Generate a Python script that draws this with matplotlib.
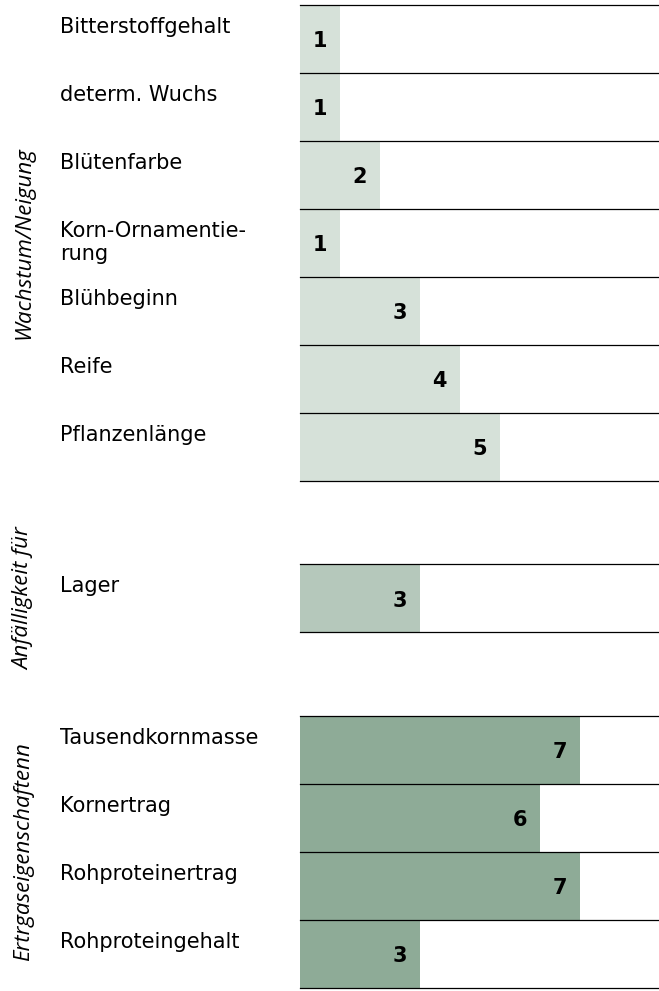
import matplotlib.pyplot as plt
import matplotlib.transforms as mtransforms

# Daten
labels_wachstum = ['Bitterstoffgehalt', 'determ. Wuchs', 'Blütenfarbe', 'Korn-Ornamentie-\nrung',
                   'Blühbeginn', 'Reife', 'Pflanzenlänge']
werte_wachstum = [1, 1, 2, 1, 3, 4, 5]
labels_anfaellig = ['Lager']
werte_anfaellig = [3]
labels_ertrag = ['Tausendkornmasse', 'Kornertrag', 'Rohproteinertrag', 'Rohproteingehalt']
werte_ertrag = [7, 6, 7, 3]
gruppen = ['Wachstum/Neigung', 'Anfälligkeit für', 'Ertrgaseigenschaftenn']

farben = ['#d6e1d9', '#b5c8bb', '#8eab97']
gap = 1.23

W, H = 659, 991
fig = plt.figure(figsize=(W / 100, H / 100), dpi=100)
ax = fig.add_axes([300 / W, 1 - 988 / H, 1 - 300 / W, (988 - 5) / H])

gruppen_daten = [(labels_wachstum, werte_wachstum), (labels_anfaellig, werte_anfaellig),
                 (labels_ertrag, werte_ertrag)]

trans = mtransforms.blended_transform_factory(fig.transFigure, ax.transData)
top = 0.0
for g, (labs, vals) in enumerate(gruppen_daten):
    ys = [top + i for i in range(len(labs))]
    ax.barh([y + 0.5 for y in ys], vals, height=1.0, color=farben[g], left=0)
    for y in ys + [top + len(labs)]:
        ax.axhline(y, color='black', lw=0.9, clip_on=False)
    for y, lab, v in zip(ys, labs, vals):
        ax.text(v - 0.33, y + 0.53, str(v), ha='right', va='center',
                fontsize=15, fontweight='bold')
        # bei mehrzeiligen Labels zählt die Grundlinie der letzten Zeile
        n = lab.count('\n')
        ax.text(60 / W, y + 0.41 + n * 0.338, lab, transform=trans, ha='left',
                va='baseline', fontsize=15, linespacing=1.15)
    ax.text(24 / W, top + len(labs) / 2, gruppen[g], transform=trans, rotation=90,
            ha='center', va='center', fontsize=16, style='italic', family='Open Sans')
    top += len(labs) + gap

ax.set_xlim(0, (W - 300) / 40)
ax.set_ylim(top - gap, 0)
ax.axis('off')

fig.savefig('out.png', dpi=100)
